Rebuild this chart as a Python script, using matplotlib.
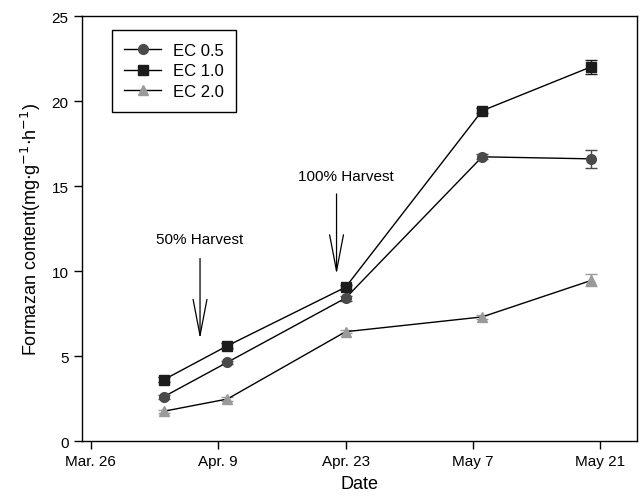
import datetime as dt
import matplotlib
matplotlib.use('Agg')
import matplotlib.pyplot as plt
from matplotlib.lines import Line2D

plt.rcParams['font.family'] = ['Liberation Sans', 'DejaVu Sans']

# sampling dates and formazan content
dates = [dt.date(2014, 4, 3), dt.date(2014, 4, 10), dt.date(2014, 4, 23),
         dt.date(2014, 5, 8), dt.date(2014, 5, 20)]
ec05 = [2.6, 4.63, 8.41, 16.72, 16.6]
ec05_err = [0.1, 0.1, 0.15, 0.15, 0.55]
ec10 = [3.6, 5.6, 9.05, 19.43, 22.02]
ec10_err = [0.15, 0.15, 0.15, 0.15, 0.4]
ec20 = [1.75, 2.47, 6.43, 7.3, 9.45]
ec20_err = [0.1, 0.1, 0.1, 0.1, 0.35]

tick_dates = [dt.date(2014, 3, 26), dt.date(2014, 4, 9), dt.date(2014, 4, 23),
              dt.date(2014, 5, 7), dt.date(2014, 5, 21)]
tick_labels = ['Mar. 26', 'Apr. 9', 'Apr. 23', 'May 7', 'May 21']

fig = plt.figure(figsize=(6.44, 5.02), dpi=100)
ax = fig.add_axes([0.1269, 0.1195, 0.862, 0.8465])

styles = [('EC 0.5', ec05, ec05_err, 'o', 7, '#4a4a4a'),
          ('EC 1.0', ec10, ec10_err, 's', 6.5, '#1c1c1c'),
          ('EC 2.0', ec20, ec20_err, '^', 7.5, '#9a9a9a')]
handles = []
for name, vals, err, mk, ms, col in styles:
    ax.errorbar(dates, vals, yerr=err, color='black', lw=1, marker=mk, ms=ms,
                mfc=col, mec=col, ecolor=col, capsize=4, elinewidth=1)
    handles.append(Line2D([], [], color='black', lw=1, marker=mk, ms=ms,
                          mfc=col, mec=col, label=name))

# harvest arrows
arrow = dict(arrowstyle='->,head_length=2.6,head_width=0.5', color='black', lw=0.9)
ax.annotate('', xy=(dt.date(2014, 4, 7), 5.85), xytext=(dt.date(2014, 4, 7), 10.9),
            arrowprops=arrow)
ax.text(dt.date(2014, 4, 7), 11.9, '50% Harvest', ha='center', va='center', fontsize=11)
ax.annotate('', xy=(dt.date(2014, 4, 22), 9.65), xytext=(dt.date(2014, 4, 22), 14.7),
            arrowprops=arrow)
ax.text(dt.date(2014, 4, 23), 15.6, '100% Harvest', ha='center', va='center', fontsize=11)

ax.set_xlim(dt.date(2014, 3, 25), dt.date(2014, 5, 25))
ax.set_ylim(0, 25)
ax.set_xticks(tick_dates)
ax.set_xticklabels(tick_labels)
ax.set_yticks([0, 5, 10, 15, 20, 25])
ax.tick_params(direction='out', length=6, width=1, labelsize=11)
for s in ax.spines.values():
    s.set_linewidth(1)

ax.set_xlabel('Date', fontsize=13, labelpad=5)
ax.set_ylabel(r'Formazan content(mg$\cdot$g$^{-1}$$\cdot$h$^{-1}$)', fontsize=13, labelpad=6)

leg = ax.legend(handles=handles, loc='upper left', bbox_to_anchor=(0.054, 0.967),
                fontsize=12, fancybox=False, edgecolor='black', framealpha=1,
                handlelength=2.2, handletextpad=0.7, borderpad=0.75,
                labelspacing=0.35, borderaxespad=0)
leg.get_frame().set_linewidth(1)

fig.savefig('out.png', dpi=100)
